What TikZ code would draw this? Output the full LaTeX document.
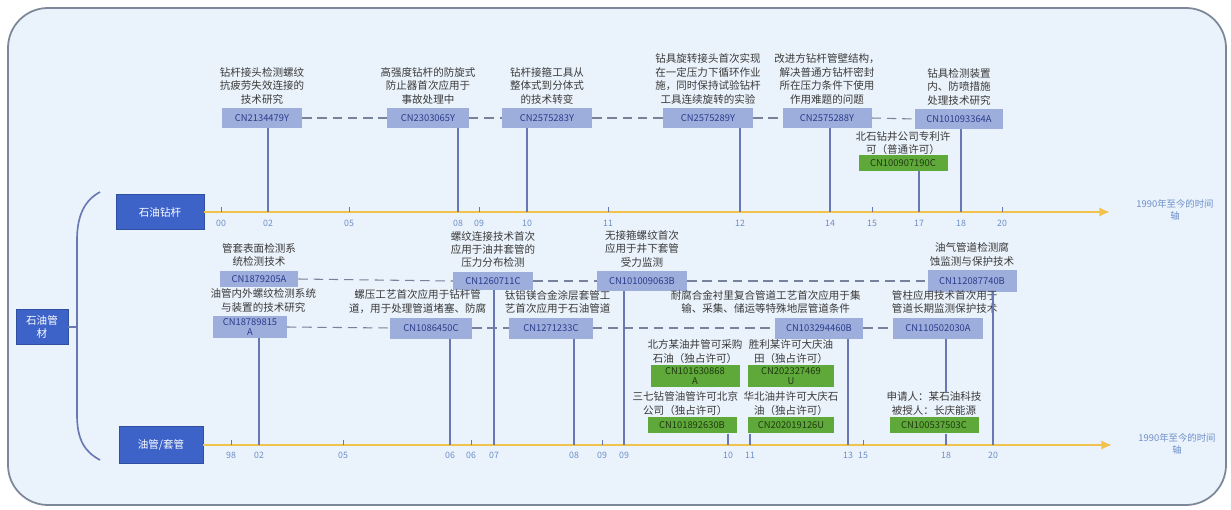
\documentclass[tikz,border=0pt]{standalone}
\usepackage{fontspec}
\setmainfont{Noto Sans CJK SC}
\usetikzlibrary{positioning,arrows.meta}

\definecolor{bgblue}{HTML}{EAF2FB}
\definecolor{framegray}{HTML}{7C8798}
\definecolor{catblue}{HTML}{3D63C9}
\definecolor{idfill}{HTML}{9EAEDC}
\definecolor{idtext}{HTML}{2A3C8C}
\definecolor{grfill}{HTML}{5FA83A}
\definecolor{grtext}{HTML}{1E3A10}
\definecolor{desctext}{HTML}{3A3A3A}
\definecolor{stemblue}{HTML}{6878B2}
\definecolor{linkgray}{HTML}{76839A}
\definecolor{axisyel}{HTML}{F3C24C}
\definecolor{yrblue}{HTML}{6E8FC8}

\tikzset{
	catbox/.style={fill=catblue, draw=catblue!80!black, text=white, align=center, font=\fontsize{9}{11}\selectfont},
	idbox/.style={fill=idfill, text=idtext, align=center, inner sep=1pt, minimum height=0.6cm, font=\fontsize{8}{9}\selectfont},
	grbox/.style={idbox, fill=grfill, text=grtext},
	desc/.style={align=center, text=desctext, inner sep=0pt, font=\fontsize{9}{11.5}\selectfont},
	stem/.style={draw=stemblue, line width=1.3pt},
	link/.style={draw=linkgray, dash pattern=on 8pt off 5pt, line width=0.9pt},
	axis/.style={draw=axisyel, line width=2.2pt, -{Latex[length=9pt,width=8pt]}},
	tickmark/.style={draw=stemblue, line width=0.8pt},
	yr/.style={text=yrblue, inner sep=0pt, font=\fontsize{7.5}{8}\selectfont},
	endlbl/.style={text=yrblue, align=center, inner sep=0pt, font=\fontsize{8}{10}\selectfont}
}

\begin{document}
\begin{tikzpicture}[x=0.03cm, y=-0.03cm]
	\useasboundingbox (0,0) rectangle (1231,510);
	
	% frame
	\draw[draw=framegray, fill=bgblue, line width=1.5pt, rounded corners=1.2cm] (8,8) rectangle (1226,505);
	
	% categories
	\node[catbox, minimum width=1.56cm, minimum height=1.05cm] (oil) at (42,327) {石油管\\材};
	\node[catbox, minimum width=2.64cm, minimum height=1.05cm] (drill) at (160,212) {石油钻杆};
	\node[catbox, minimum width=2.52cm, minimum height=1.1cm] (tube) at (161,445) {油管/套管};
	
	\coordinate (bmid) at (77,327);
	\draw[draw=stemblue, line width=1.4pt] (100,192) .. controls (85,200) and (77,215) .. (77,240) -- (77,415) .. controls (77,440) and (85,452) .. (100,460);
	\draw[draw=stemblue, line width=1.4pt] (oil.east) -- (bmid);
	
	% axes
	\coordinate (tend) at (1110,212);
	\coordinate (bend) at (1112,445);
	\draw[axis] (drill.east) -- (tend);
	\draw[axis] (tube.east) -- (bend);
	\node[endlbl] (tlbl) at (1175,210) {1990年至今的时间\\轴};
	\node[endlbl] (blbl) at (1177,444) {1990年至今的时间\\轴};
	
	\foreach \px/\yy in {221/00,268/02,349/05,458/08,479/09,527/10,608/11,740/12,830/14,872/15,919/17,961/18,1002/20} {
		\coordinate (ta\px) at (\px,212);
		\draw[tickmark] (ta\px) -- ++(0,-5);
		\node[yr] (ty\px) at (\px,223) {\yy};
	}
	\foreach \px/\yy in {231/98,259/02,343/05,450/06,471/06,494/07,574/08,602/09,624/09,728/10,750/11,848/13,863/15,946/18,993/20} {
		\coordinate (ba\px) at (\px,445);
		\draw[tickmark] (ba\px) -- ++(0,-5);
		\node[yr] (by\px) at (\px,455) {\yy};
	}
	
	% drill pipe patents
	\node[idbox, minimum width=2.4cm] (t1) at (262,118) {CN2134479Y};
	\node[idbox, minimum width=2.45cm] (t2) at (428,118) {CN2303065Y};
	\node[idbox, minimum width=2.7cm] (t3) at (547,118) {CN2575283Y};
	\node[idbox, minimum width=2.7cm] (t4) at (708,118) {CN2575289Y};
	\node[idbox, minimum width=2.67cm] (t5) at (827,118) {CN2575288Y};
	\node[idbox, minimum width=2.65cm] (t6) at (959,119) {CN101093364A};
	\node[grbox, minimum width=2.67cm, minimum height=0.48cm] (tg) at (903,163) {CN100907190C};
	
	\node[desc, above=3pt of t1] (t1d) {钻杆接头检测螺纹\\抗疲劳失效连接的\\技术研究};
	\node[desc, above=3pt of t2] (t2d) {高强度钻杆的防旋式\\防止器首次应用于\\事故处理中};
	\node[desc, above=3pt of t3] (t3d) {钻杆接箍工具从\\整体式到分体式\\的技术转变};
	\node[desc, above=3pt of t4] (t4d) {钻具旋转接头首次实现\\在一定压力下循环作业\\施，同时保持试验钻杆\\工具连续旋转的实验};
	\node[desc, above=3pt of t5] (t5d) {改进方钻杆管壁结构，\\解决普通方钻杆密封\\所在压力条件下使用\\作用难题的问题};
	\node[desc, above=3pt of t6] (t6d) {钻具检测装置\\内、防喷措施\\处理技术研究};
	\node[desc, above=0pt of tg] (tgd) {北石钻井公司专利许\\可（普通许可）};
	
	\draw[link] (t1.east) -- (t2.west);
	\draw[link] (t2.east) -- (t3.west);
	\draw[link] (t3.east) -- (t4.west);
	\draw[link] (t4.east) -- (t5.west);
	\draw[link] (t5.east) -- (t6.west);
	
	\draw[stem] (t1.south -| ta268) -- (ta268);
	\draw[stem] (t2.south -| ta458) -- (ta458);
	\draw[stem] (t3.south -| ta527) -- (ta527);
	\draw[stem] (t4.south -| ta740) -- (ta740);
	\draw[stem] (t5.south -| ta830) -- (ta830);
	\draw[stem] (t6.south -| ta961) -- (ta961);
	\draw[stem] (tg.south -| ta919) -- (ta919);
	
	% tubing / casing patents, upper row
	\node[idbox, minimum width=2.35cm, minimum height=0.5cm] (a1) at (259,279) {CN1879205A};
	\node[idbox, minimum width=2.4cm, minimum height=0.55cm] (a2) at (493,281) {CN1260711C};
	\node[idbox, minimum width=2.7cm] (a3) at (642,281) {CN101009063B};
	\node[idbox, minimum width=2.67cm, minimum height=0.66cm] (a4) at (972,281) {CN112087740B};
	
	\node[desc, above=3pt of a1] (a1d) {管套表面检测系\\统检测技术};
	\node[desc, above=3pt of a2] (a2d) {螺纹连接技术首次\\应用于油井套管的\\压力分布检测};
	\node[desc, above=3pt of a3] (a3d) {无接箍螺纹首次\\应用于井下套管\\受力监测};
	\node[desc, above=3pt of a4] (a4d) {油气管道检测腐\\蚀监测与保护技术};
	
	\draw[link] (a1.east) -- (a2.west);
	\draw[link] (a2.east) -- (a3.west);
	\draw[link] (a3.east) -- (a4.west);
	
	% lower row
	\node[idbox, minimum width=2.2cm, minimum height=0.66cm] (b1) at (250,327) {CN18789815\\A};
	\node[idbox, minimum width=2.46cm, minimum height=0.63cm] (b2) at (431,328) {CN1086450C};
	\node[idbox, minimum width=2.5cm, minimum height=0.63cm] (b3) at (551,328) {CN1271233C};
	\node[idbox, minimum width=2.64cm, minimum height=0.63cm] (b4) at (819,328) {CN103294460B};
	\node[idbox, minimum width=2.7cm, minimum height=0.63cm] (b5) at (938,328) {CN110502030A};
	
	\node[desc, above=3pt of b1, xshift=0.4cm] (b1d) {油管内外螺纹检测系统\\与装置的技术研究};
	\node[desc, above=3pt of b2, xshift=-0.4cm] (b2d) {螺压工艺首次应用于钻杆管\\道，用于处理管道堵塞、防腐};
	\node[desc, above=3pt of b3, xshift=0.2cm] (b3d) {钛铝镁合金涂层套管工\\艺首次应用于石油管道};
	\node[desc, above=3pt of b4, xshift=-1.6cm] (b4d) {耐腐合金衬里复合管道工艺首次应用于集\\输、采集、储运等特殊地层管道条件};
	\node[desc, above=3pt of b5, xshift=0.2cm] (b5d) {管柱应用技术首次用于\\管道长期监测保护技术};
	
	\draw[link] (b1.east) -- (b2.west);
	\draw[link] (b2.east) -- (b3.west);
	\draw[link] (b3.east) -- (b4.west);
	\draw[link] (b4.east) -- (b5.west);
	
	% licences
	\node[grbox, minimum width=2.67cm, minimum height=0.66cm] (g1) at (695,376) {CN101630868\\A};
	\node[grbox, minimum width=2.6cm, minimum height=0.66cm] (g2) at (791,376) {CN202327469\\U};
	\node[grbox, minimum width=2.67cm, minimum height=0.5cm] (g3) at (692,425) {CN101892630B};
	\node[grbox, minimum width=2.6cm, minimum height=0.5cm] (g4) at (791,425) {CN202019126U};
	\node[grbox, minimum width=2.67cm, minimum height=0.5cm] (g5) at (934,425) {CN100537503C};
	
	\node[desc, above=1pt of g1] (g1d) {北方某油井管可采购\\石油（独占许可）};
	\node[desc, above=1pt of g2] (g2d) {胜利某许可大庆油\\田（独占许可）};
	\node[desc, above=1pt of g3, xshift=-0.2cm] (g3d) {三七钻管油管许可北京\\公司（独占许可）};
	\node[desc, above=1pt of g4] (g4d) {华北油井许可大庆石\\油（独占许可）};
	\node[desc, above=1pt of g5] (g5d) {申请人：某石油科技\\被授人：长庆能源};
	
	\draw[stem] (b1.south -| ba259) -- (ba259);
	\draw[stem] (a2.south -| ba494) -- (ba494);
	\draw[stem] (b2.south -| ba450) -- (ba450);
	\draw[stem] (b3.south -| ba574) -- (ba574);
	\draw[stem] (a3.south -| ba624) -- (ba624);
	\draw[stem] (g3.south -| ba728) -- (ba728);
	\draw[stem] (g4.south -| ba750) -- (ba750);
	\draw[stem] (b4.south -| ba848) -- (ba848);
	\draw[stem] (b5.south -| ba946) -- (g5d.north -| ba946);
	\draw[stem] (g5.south -| ba946) -- (ba946);
	\draw[stem] (a4.south -| ba993) -- (ba993);
	
\end{tikzpicture}
\end{document}
